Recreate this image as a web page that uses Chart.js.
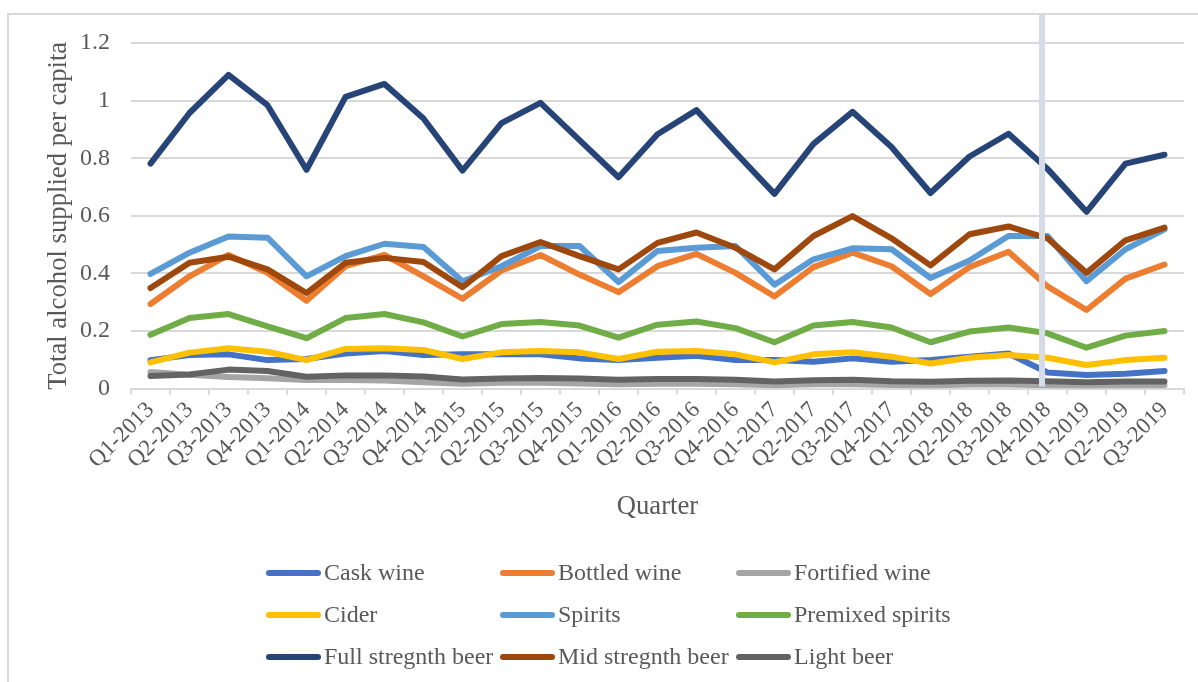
<!DOCTYPE html>
<html>
<head>
<meta charset="utf-8">
<script src="https://cdn.jsdelivr.net/npm/chart.js@4.4.1/dist/chart.umd.min.js"></script>
<style>
  body { margin: 0; background: #fff; }
  canvas { display: block; }
</style>
</head>
<body>
<canvas id="grafico" width="1198" height="682"></canvas>
<script>
const quarters = ['Q1-2013','Q2-2013','Q3-2013','Q4-2013','Q1-2014','Q2-2014','Q3-2014','Q4-2014',
  'Q1-2015','Q2-2015','Q3-2015','Q4-2015','Q1-2016','Q2-2016','Q3-2016','Q4-2016',
  'Q1-2017','Q2-2017','Q3-2017','Q4-2017','Q1-2018','Q2-2018','Q3-2018','Q4-2018',
  'Q1-2019','Q2-2019','Q3-2019'];

const caskWine = [0.099,0.117,0.119,0.099,0.103,0.122,0.131,0.117,0.119,0.119,0.119,0.105,0.099,0.107,0.114,0.099,0.099,0.093,0.105,0.093,0.099,0.111,0.122,0.056,0.047,0.052,0.061];
const bottledWine = [0.294,0.390,0.464,0.402,0.305,0.425,0.464,0.390,0.312,0.410,0.464,0.396,0.335,0.425,0.468,0.402,0.320,0.422,0.472,0.425,0.328,0.422,0.475,0.355,0.273,0.382,0.431];
const fortifiedWine = [0.058,0.048,0.040,0.036,0.030,0.030,0.028,0.022,0.017,0.020,0.020,0.018,0.015,0.017,0.017,0.015,0.012,0.015,0.015,0.013,0.011,0.014,0.014,0.012,0.010,0.012,0.012];
const cider = [0.091,0.125,0.140,0.128,0.099,0.138,0.140,0.134,0.103,0.126,0.131,0.126,0.103,0.128,0.131,0.119,0.091,0.119,0.126,0.111,0.087,0.107,0.117,0.107,0.082,0.099,0.107];
const spirits = [0.398,0.472,0.528,0.524,0.390,0.460,0.503,0.492,0.373,0.425,0.495,0.495,0.370,0.478,0.489,0.495,0.361,0.449,0.487,0.484,0.384,0.445,0.530,0.530,0.373,0.484,0.553];
const premixedSpirits = [0.187,0.245,0.259,0.216,0.175,0.245,0.259,0.230,0.181,0.224,0.231,0.219,0.177,0.222,0.233,0.210,0.161,0.219,0.231,0.212,0.161,0.198,0.212,0.192,0.142,0.184,0.200];
const fullBeer = [0.781,0.957,1.089,0.984,0.760,1.013,1.058,0.938,0.757,0.922,0.992,0.863,0.734,0.883,0.967,0.820,0.676,0.850,0.961,0.839,0.679,0.806,0.885,0.763,0.614,0.781,0.812];
const midBeer = [0.349,0.437,0.458,0.414,0.332,0.437,0.454,0.440,0.352,0.460,0.509,0.460,0.414,0.506,0.542,0.489,0.414,0.530,0.599,0.522,0.428,0.536,0.563,0.522,0.402,0.515,0.559];
const lightBeer = [0.044,0.049,0.066,0.061,0.041,0.046,0.046,0.042,0.032,0.035,0.037,0.035,0.031,0.033,0.033,0.031,0.025,0.029,0.031,0.026,0.024,0.027,0.028,0.026,0.022,0.025,0.025];

const seriesNames = ['Cask wine','Bottled wine','Fortified wine','Cider','Spirits','Premixed spirits','Full stregnth beer','Mid stregnth beer','Light beer'];
const seriesValues = [caskWine, bottledWine, fortifiedWine, cider, spirits, premixedSpirits, fullBeer, midBeer, lightBeer];
const seriesColors = ['#4472C4','#ED7D31','#A5A5A5','#FFC000','#5B9BD5','#70AD47','#264478','#9E480E','#636363'];

// la barra vertical gris que hay entre Q3-2018 y Q4-2018
const markerPos = 22.86;

const FONT = '"Liberation Serif", "Times New Roman", serif';
const TEXT = '#595959';
const GRID = '#d9d9d9';

// marco exterior + barra + leyenda en tres columnas
const extras = {
    id: 'extras',
    beforeDraw(chart) {
        const ctx = chart.ctx;
        ctx.save();
        ctx.strokeStyle = GRID;
        ctx.lineWidth = 2;
        ctx.strokeRect(8, 14, chart.width, chart.height);
        ctx.restore();
    },
    afterDatasetsDraw(chart) {
        const ctx = chart.ctx;
        const x = chart.scales.x.getPixelForValue(markerPos);
        ctx.save();
        ctx.fillStyle = '#d6dce5';
        ctx.fillRect(x - 3, 14, 6, chart.chartArea.bottom - 16);
        ctx.restore();
    },
    afterDraw(chart) {
        const ctx = chart.ctx;
        const cols = [266, 500, 736];
        const rows = [chart.height - 109, chart.height - 67, chart.height - 25];
        ctx.save();
        ctx.font = '24px ' + FONT;
        ctx.textBaseline = 'middle';
        ctx.fillStyle = TEXT;
        chart.data.datasets.forEach((ds, i) => {
            const x = cols[i % 3];
            const y = rows[Math.floor(i / 3)];
            ctx.strokeStyle = ds.borderColor;
            ctx.lineWidth = 6;
            ctx.lineCap = 'round';
            ctx.beginPath();
            ctx.moveTo(x + 3, y);
            ctx.lineTo(x + 52, y);
            ctx.stroke();
            ctx.fillText(ds.label, x + 58, y + 1);
        });
        ctx.restore();
    }
};

const datasets = seriesNames.map((name, i) => ({
    label: name,
    data: seriesValues[i],
    borderColor: seriesColors[i],
    backgroundColor: seriesColors[i],
    borderWidth: 6,
    borderCapStyle: 'round',
    borderJoinStyle: 'round',
    pointRadius: 0,
    tension: 0,
    order: seriesNames.length - i
}));

new Chart(document.getElementById('grafico'), {
    type: 'line',
    data: { labels: quarters, datasets: datasets },
    plugins: [extras],
    options: {
        responsive: false,
        animation: false,
        devicePixelRatio: 1,
        layout: { padding: { left: 43, right: 14, top: 43, bottom: 159 } },
        plugins: { legend: { display: false }, tooltip: { enabled: false } },
        scales: {
            x: {
                offset: true,
                grid: { offset: true, drawOnChartArea: false, drawTicks: true, tickLength: 6, color: GRID, lineWidth: 2 },
                border: { color: GRID, width: 2 },
                ticks: { autoSkip: false, maxRotation: 45, minRotation: 45, padding: 2, color: TEXT, font: { family: FONT, size: 23 } },
                title: { display: true, text: 'Quarter', color: TEXT, font: { family: FONT, size: 26.7 }, padding: { top: 15, bottom: 0 } }
            },
            y: {
                min: 0,
                max: 1.2,
                // chart.js cuenta el padding de los ticks dos veces, fijo el ancho
                afterFit: scale => { scale.width = 88; },
                grid: { color: GRID, lineWidth: 2, drawTicks: false },
                border: { display: false },
                ticks: {
                    stepSize: 0.2,
                    padding: 21,
                    color: TEXT,
                    font: { family: FONT, size: 24 },
                    callback: v => String(Number(v.toFixed(1)))
                },
                title: { display: true, text: 'Total alcohol supplied per capita', color: TEXT, font: { family: FONT, size: 26.7 }, padding: { top: 0, bottom: 5 } }
            }
        }
    }
});
</script>
</body>
</html>
